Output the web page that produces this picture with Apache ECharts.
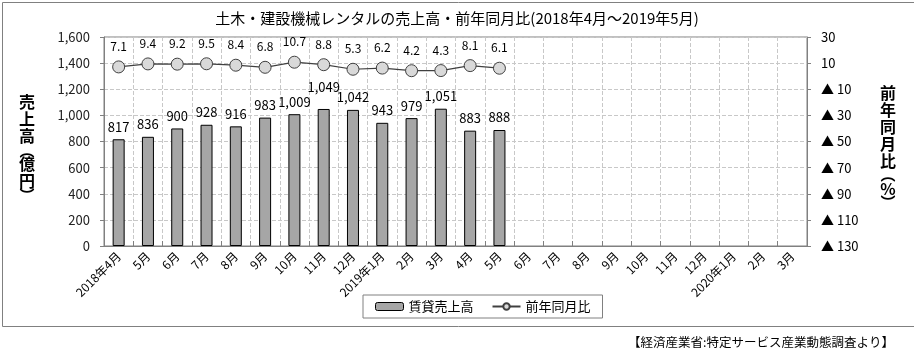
<!DOCTYPE html>
<html>
<head>
<meta charset="utf-8">
<script src="https://cdn.jsdelivr.net/npm/echarts@6/dist/echarts.min.js"></script>
<style>
html,body{margin:0;padding:0;background:#fff;}
#chart{width:914px;height:357px;}
</style>
</head>
<body>
<div id="chart"></div>
<script>
// ---- data ----
var categories = ['2018年4月','5月','6月','7月','8月','9月','10月','11月','12月',
  '2019年1月','2月','3月','4月','5月','6月','7月','8月','9月','10月','11月','12月',
  '2020年1月','2月','3月'];
var salesValues = [817, 836, 900, 928, 916, 983, 1009, 1049, 1042, 943, 979, 1051, 883, 888];
var yoyValues = [7.1, 9.4, 9.2, 9.5, 8.4, 6.8, 10.7, 8.8, 5.3, 6.2, 4.2, 4.3, 8.1, 6.1];
var leftTicks = [0, 1600, 200];
var rightTicks = [-130, 30, 20];
var seriesNames = ['賃貸売上高', '前年同月比'];
var titleText = '土木・建設機械レンタルの売上高・前年同月比(2018年4月～2019年5月)';
var footerText = '【経済産業省:特定サービス産業動態調査より】';

var FONT = '"Noto Sans CJK JP", "Noto Sans", sans-serif';
var chart = echarts.init(document.getElementById('chart'), null, {renderer: 'canvas'});

function vertRich(chars, parenIdx) {
  return chars.map(function (c, i) {
    return (parenIdx.indexOf(i) >= 0 ? '{p|' : '{a|') + c + '}';
  }).join('\n');
}

// raise a bar label that would collide with both wide neighbours' labels
function crowded(i) {
  var v = salesValues[i], a = salesValues[i - 1], b = salesValues[i + 1];
  return v >= 1000 && a >= 1000 && b >= 1000 && v > a && v > b;
}

var option = {
  animation: false,
  backgroundColor: '#fff',
  textStyle: {fontFamily: FONT},
  title: {
    text: titleText,
    left: 'center',
    top: 6,
    textStyle: {fontFamily: FONT, fontSize: 15, fontWeight: 'normal', color: '#000'}
  },
  grid: {
    left: 104, right: 107, top: 37, bottom: 111,
    show: true, borderColor: '#808080', borderWidth: 1
  },
  legend: {
    left: 363, top: 295,
    padding: [5, 12, 5, 12],
    borderColor: '#808080', borderWidth: 1,
    itemGap: 18,
    itemWidth: 28, itemHeight: 8,
    textStyle: {fontFamily: FONT, fontSize: 13, color: '#000'},
    data: [
      {name: seriesNames[0], itemStyle: {color: '#a6a6a6', borderColor: '#000', borderWidth: 1}},
      {name: seriesNames[1]}
    ]
  },
  xAxis: {
    type: 'category',
    data: categories,
    boundaryGap: true,
    axisLine: {lineStyle: {color: '#808080'}},
    axisTick: {show: true, inside: true, length: 5, lineStyle: {color: '#808080'}},
    splitLine: {show: true, lineStyle: {color: '#c8c8c8', type: 'dashed'}},
    axisLabel: {rotate: 45, fontSize: 12, color: '#000', margin: 8, interval: 0, fontFamily: FONT}
  },
  yAxis: [
    {
      type: 'value',
      min: leftTicks[0], max: leftTicks[1], interval: leftTicks[2],
      axisLine: {show: true, lineStyle: {color: '#808080'}},
      axisTick: {show: true, length: 4, lineStyle: {color: '#808080'}},
      splitLine: {show: true, lineStyle: {color: '#c8c8c8', type: 'dashed'}},
      axisLabel: {
        fontSize: 13, color: '#222', margin: 14, fontFamily: FONT,
        formatter: function (v) { return v.toLocaleString('en-US'); }
      }
    },
    {
      type: 'value',
      min: rightTicks[0], max: rightTicks[1], interval: rightTicks[2],
      axisLine: {show: true, lineStyle: {color: '#808080'}},
      axisTick: {show: true, length: 4, lineStyle: {color: '#808080'}},
      splitLine: {show: false},
      axisLabel: {
        fontSize: 13, color: '#000', margin: 14, align: 'left', fontFamily: FONT,
        formatter: function (v) { return v >= 0 ? String(v) : '▲ ' + Math.abs(v); }
      }
    }
  ],
  series: [
    {
      name: seriesNames[0],
      type: 'bar',
      yAxisIndex: 0,
      data: salesValues,
      barWidth: 12,
      itemStyle: {color: '#a6a6a6', borderColor: '#000', borderWidth: 1},
      label: {
        show: true, position: 'top', distance: 6, fontSize: 13, color: '#000', fontFamily: FONT,
        formatter: function (p) { return p.value.toLocaleString('en-US'); }
      },
      labelLayout: function (params) {
        return crowded(params.dataIndex) ? {dy: -9} : {};
      }
    },
    {
      name: seriesNames[1],
      type: 'line',
      yAxisIndex: 1,
      data: yoyValues,
      symbol: 'circle',
      symbolSize: 12,
      itemStyle: {color: '#d9d9d9', borderColor: '#404040', borderWidth: 1},
      lineStyle: {color: '#404040', width: 1.2},
      label: {
        show: true, position: 'top', distance: 8, fontSize: 12, color: '#000', fontFamily: FONT,
        formatter: function (p) { return p.value.toFixed(1); }
      }
    }
  ],
  graphic: [
    {
      type: 'rect', left: 0, top: 0, silent: true, z: -10,
      shape: {x: 0.5, y: 0.5, width: 912, height: 324},
      style: {fill: 'none', stroke: '#808080', lineWidth: 1}
    },
    {
      type: 'text', x: 27, y: 147,
      style: {
        text: vertRich(['売','上','高','︵','億','円','︶'], [3, 6]),
        align: 'center', verticalAlign: 'middle',
        rich: {
          a: {fontFamily: FONT, fontSize: 16, fontWeight: 'bold', lineHeight: 17, color: '#000', align: 'center'},
          p: {fontFamily: FONT, fontSize: 15, fontWeight: 'bold', lineHeight: 11, color: '#000', align: 'center'}
        }
      }
    },
    {
      type: 'text', x: 888, y: 146,
      style: {
        text: vertRich(['前','年','同','月','比','︵','%','︶'], [5, 7]),
        align: 'center', verticalAlign: 'middle',
        rich: {
          a: {fontFamily: FONT, fontSize: 16, fontWeight: 'bold', lineHeight: 17, color: '#000', align: 'center'},
          p: {fontFamily: FONT, fontSize: 15, fontWeight: 'bold', lineHeight: 11, color: '#000', align: 'center'}
        }
      }
    },
    {
      type: 'text', right: 20, top: 336,
      style: {text: footerText, fontFamily: FONT, fontSize: 12.5, fill: '#000'}
    }
  ]
};
chart.setOption(option);
</script>
</body>
</html>
